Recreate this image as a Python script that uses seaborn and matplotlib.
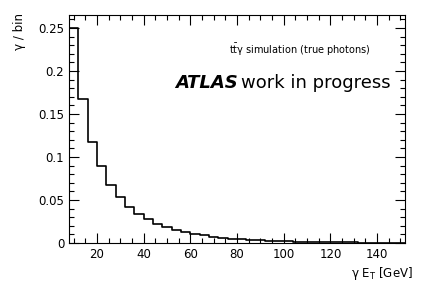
import matplotlib
matplotlib.use("Agg")
import matplotlib.pyplot as plt
from matplotlib.ticker import MultipleLocator
import seaborn as sns

# bin edges (GeV) and normalised photon counts per bin
bin_edges = list(range(8, 153, 4))
photon_frac = [0.250, 0.168, 0.118, 0.089, 0.068, 0.053, 0.042, 0.034,
               0.0276, 0.0225, 0.0186, 0.0151, 0.0128, 0.0108, 0.0090, 0.0074,
               0.0062, 0.0052, 0.0044, 0.0037, 0.0031, 0.0026, 0.0022, 0.0019,
               0.0016, 0.0014, 0.0012, 0.0010, 0.0009, 0.0008, 0.0007, 0.0006,
               0.0005, 0.0005, 0.0004, 0.0004]
centers = [(a + b) / 2 for a, b in zip(bin_edges[:-1], bin_edges[1:])]

sns.set_style("ticks", {"axes.edgecolor": "black", "text.color": "black",
                        "xtick.color": "black", "ytick.color": "black",
                        "axes.labelcolor": "black"})
plt.rcParams['font.family'] = ['DejaVu Sans']

fig = plt.figure(figsize=(4.27, 2.9), dpi=100)
ax = fig.add_axes([0.1616, 0.162, 0.787, 0.786])

sns.histplot(x=centers, weights=photon_frac, bins=bin_edges, element="step",
             fill=False, color="black", linewidth=1.2, ax=ax)

ax.set_xlim(8, 152)
ax.set_ylim(0, 0.265)
ax.xaxis.set_major_locator(MultipleLocator(20))
ax.xaxis.set_minor_locator(MultipleLocator(5))
ax.yaxis.set_minor_locator(MultipleLocator(0.01))
ax.set_yticks([0, 0.05, 0.1, 0.15, 0.2, 0.25])
ax.set_yticklabels(["0", "0.05", "0.1", "0.15", "0.2", "0.25"])
ax.tick_params(which="both", direction="in", top=True, right=True, labelsize=8.5)
ax.tick_params(which="major", length=7, width=0.8)
ax.tick_params(which="minor", length=3.5, width=0.8)
for s in ax.spines.values():
    s.set_linewidth(0.8)

ax.set_xlabel("")
ax.set_ylabel("")
fig.text(413 / 427, 1 - 273 / 290, "γ E$_\\mathregular{T}$ [GeV]",
         ha="right", va="center", fontsize=8.5)
fig.text(20 / 427, 1 - 13 / 290, "γ / bin", rotation=90,
         ha="center", va="top", fontsize=8.5)

fig.text(371 / 427, 1 - 50 / 290, r"t$\bar{\mathregular{t}}$γ simulation (true photons)",
         ha="right", va="center", fontsize=7)
fig.text(238 / 427, 1 - 87.5 / 290, "ATLAS",
         ha="right", va="baseline", fontsize=13, fontweight="bold", fontstyle="italic")
fig.text(391 / 427, 1 - 87.5 / 290, "work in progress",
         ha="right", va="baseline", fontsize=13)

fig.savefig("out.png", dpi=100)
